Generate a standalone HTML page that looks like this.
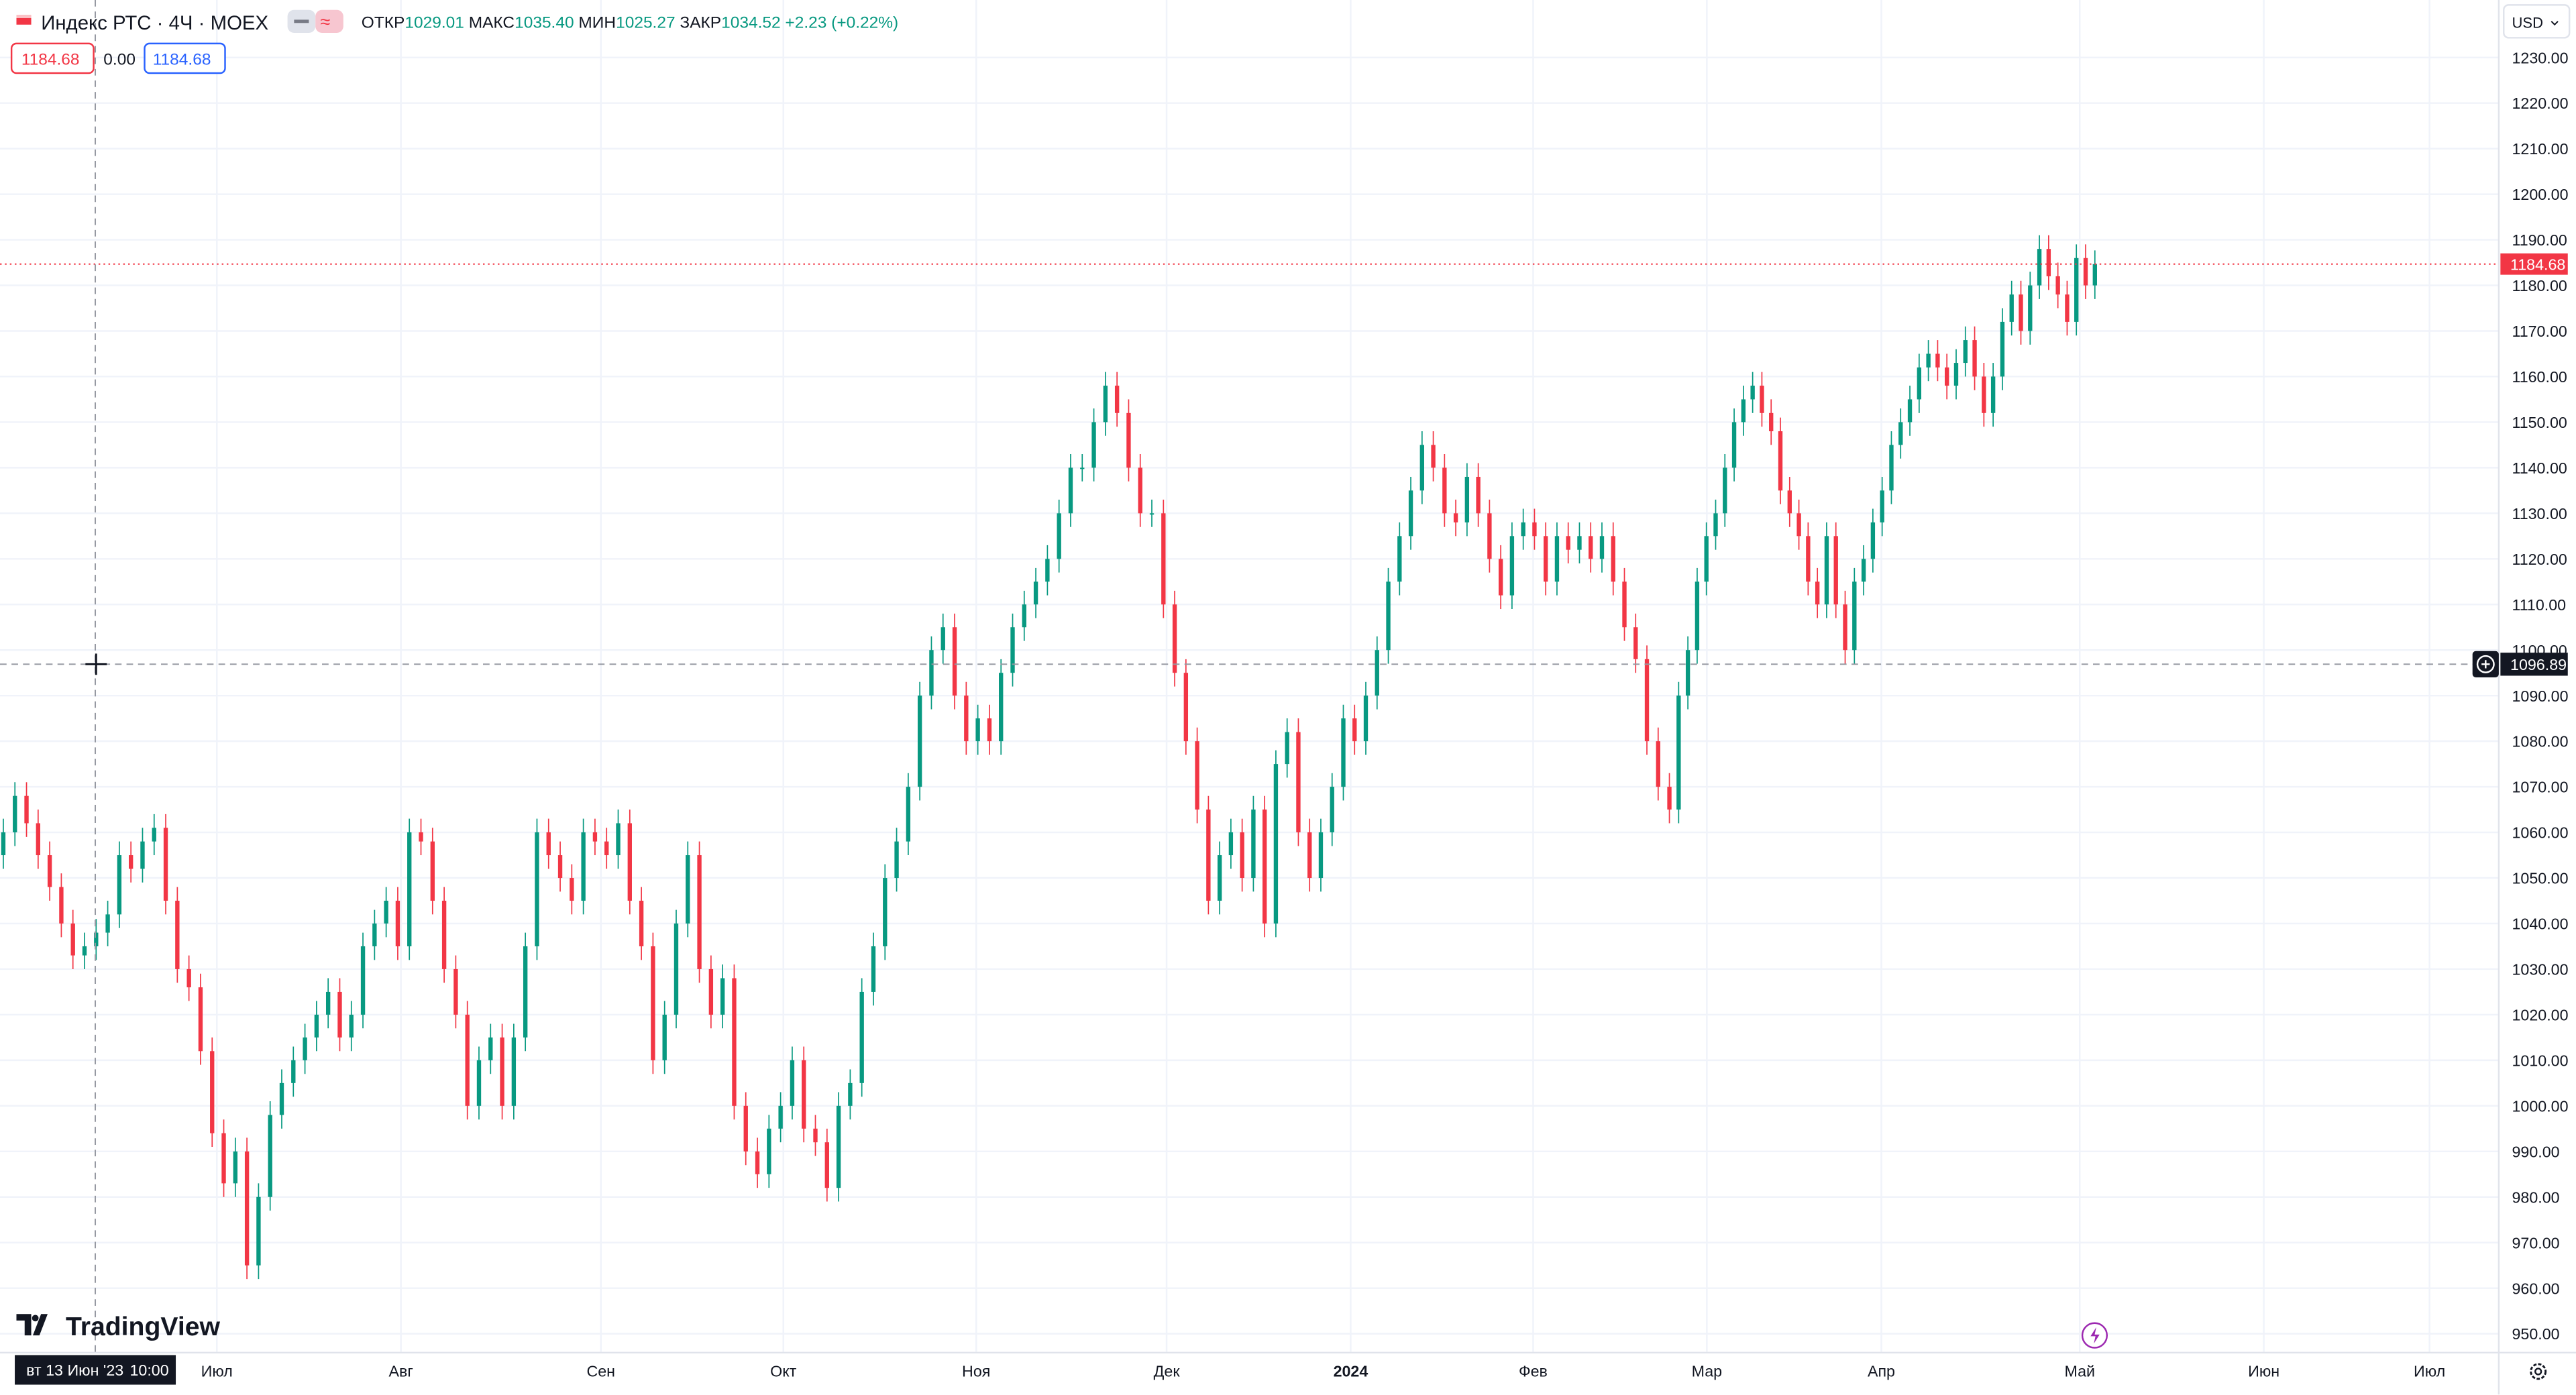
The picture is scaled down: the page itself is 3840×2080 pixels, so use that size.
<!DOCTYPE html>
<html><head><meta charset="utf-8">
<style>
html,body{margin:0;padding:0;background:#fff;}
svg{display:block;font-family:"Liberation Sans","Noto Sans CJK SC",sans-serif;}
</style></head>
<body>
<svg id="chart" width="3840" height="2080" viewBox="0 0 1568 849.3" preserveAspectRatio="none" xmlns="http://www.w3.org/2000/svg">
<rect x="0" y="0" width="1568" height="849.3" fill="#ffffff"/>
<g id="grid"></g>
<g id="candles"></g>
<g id="yaxis"></g>
<g id="xaxis"></g>
<g id="overlay"></g>
</svg>
<script>
const closes = [1060,1068,1062,1055,1048,1040,1033,1035,1038,1042,1055,1052,1058,1061,1045,1030,1026,1012,994,983,990,965,980,998,1005,1010,1015,1020,1025,1015,1020,1035,1040,1045,1035,1060,1058,1045,1030,1020,1000,1010,1015,1000,1015,1035,1060,1055,1050,1045,1060,1058,1055,1062,1045,1035,1010,1020,1040,1055,1030,1020,1028,1000,990,985,995,1000,1010,995,992,982,1000,1005,1025,1035,1050,1058,1070,1090,1100,1105,1090,1080,1085,1080,1095,1105,1110,1115,1120,1130,1140,1140,1150,1158,1152,1140,1130,1130,1110,1095,1080,1065,1045,1055,1060,1050,1065,1040,1075,1082,1060,1050,1060,1070,1085,1080,1090,1100,1115,1125,1135,1145,1140,1130,1128,1138,1130,1120,1112,1125,1128,1125,1115,1125,1122,1125,1120,1125,1115,1105,1098,1080,1070,1065,1090,1100,1115,1125,1130,1140,1150,1155,1158,1152,1148,1135,1130,1125,1115,1110,1125,1110,1100,1115,1120,1128,1135,1145,1150,1155,1162,1165,1162,1158,1163,1168,1160,1152,1160,1172,1178,1170,1180,1188,1182,1178,1172,1186,1180,1184.68];
const firstOpen = 1055;
const anchorBars = [0,100,145,191];
const anchorDays = [-26.8,118.8,182.3,235.7];
const priceTicks = [1230,1220,1210,1200,1190,1180,1170,1160,1150,1140,1130,1120,1110,1100,1090,1080,1070,1060,1050,1040,1030,1020,1010,1000,990,980,970,960,950];
const monthLabels = ["Июл","Авг","Сен","Окт","Ноя","Дек","2024","Фев","Мар","Апр","Май","Июн","Июл"];
const monthDays = [0,23.1,48.2,71.1,95.3,119.2,142.3,165.2,187.0,208.9,233.8,256.9,277.7];
const lastPrice = 1184.68;
const crossPrice = 1096.89;

const NS="http://www.w3.org/2000/svg";
function y(p){return 35+(1230-p)*2.775;}
function xd(d){return 132+d*4.85;}
function barDay(i){for(let k=0;k<anchorBars.length-1;k++){if(i<=anchorBars[k+1]){const t=(i-anchorBars[k])/(anchorBars[k+1]-anchorBars[k]);return anchorDays[k]+t*(anchorDays[k+1]-anchorDays[k]);}}return anchorDays[anchorDays.length-1];}
function mk(tag,attrs,parent,text){const e=document.createElementNS(NS,tag);for(const k in attrs)e.setAttribute(k,attrs[k]);if(text!==undefined)e.textContent=text;parent.appendChild(e);return e;}
const grid=document.getElementById('grid'),cg=document.getElementById('candles'),ya=document.getElementById('yaxis'),xa=document.getElementById('xaxis'),ov=document.getElementById('overlay');

priceTicks.forEach(p=>{
  const l=mk('line',{x1:0,x2:1521,y1:y(p),y2:y(p),stroke:'#f0f3fa','stroke-width':1},grid);
  
  
  const t=mk('text',{x:1529,y:y(p)+3.5,'font-size':9.5,fill:'#131722'},ya,p.toFixed(2));
  
  
});
monthLabels.forEach((m,i)=>{
  const x=xd(monthDays[i]);
  const l=mk('line',{x1:x,x2:x,y1:0,y2:823,stroke:'#f0f3fa','stroke-width':1},grid);
  
  
  const t=mk('text',{x:x,y:838,'font-size':9.5,fill:'#131722','text-anchor':'middle','font-weight':m==='2024'?'bold':'normal'},xa,m);
  
  
});

const w=2.6;
closes.forEach((c,i)=>{
  const o=i===0?firstOpen:closes[i-1];
  const up=c>=o, col=up?'#089981':'#f23645';
  const x=xd(barDay(i));
  const hi=Math.max(o,c)+3, lo=Math.min(o,c)-3;
  const g=mk('g',{},cg);
  
  
  mk('line',{x1:x,x2:x,y1:y(hi),y2:y(lo),stroke:col,'stroke-width':0.7},g);
  mk('rect',{x:x-w/2,y:y(Math.max(o,c)),width:w,height:Math.max(0.8,Math.abs(y(o)-y(c))),fill:col},g);
});

mk('line',{x1:1521,x2:1521,y1:0,y2:849,stroke:'#e0e3eb','stroke-width':1},ya);
mk('line',{x1:0,x2:1568,y1:823.5,y2:823.5,stroke:'#e0e3eb','stroke-width':1},xa);

mk('line',{x1:0,x2:1521,y1:y(lastPrice),y2:y(lastPrice),stroke:'#f23645','stroke-width':0.8,'stroke-dasharray':'1 2'},ov);
const lp=mk('g',{},ov);


mk('rect',{x:1522,y:y(lastPrice)-6.5,width:41,height:13,fill:'#f23645'},lp);
mk('text',{x:1528,y:y(lastPrice)+3.5,'font-size':9.5,fill:'#fff'},lp,lastPrice.toFixed(2));

mk('line',{x1:0,x2:1521,y1:y(crossPrice),y2:y(crossPrice),stroke:'#9598a1','stroke-width':0.8,'stroke-dasharray':'4 3'},ov);
mk('line',{x1:58,x2:58,y1:0,y2:823,stroke:'#9598a1','stroke-width':0.8,'stroke-dasharray':'4 3'},ov);
const cl=mk('g',{},ov);


mk('rect',{x:1522,y:y(crossPrice)-7,width:41,height:14,fill:'#131722'},cl);
mk('text',{x:1528,y:y(crossPrice)+3.5,'font-size':9.5,fill:'#fff'},cl,crossPrice.toFixed(2));
const ab=mk('g',{},ov);


mk('rect',{x:1505,y:y(crossPrice)-8,width:16,height:16,fill:'#131722',rx:2},ab);
mk('circle',{cx:1513,cy:y(crossPrice),r:5,fill:'none',stroke:'#fff','stroke-width':1},ab);
mk('path',{d:`M1510.5 ${y(crossPrice)}h5M1513 ${y(crossPrice)-2.5}v5`,stroke:'#fff','stroke-width':1},ab);
mk('path',{d:`M52 ${y(crossPrice)}h13M58.5 ${y(crossPrice)-6.5}v13`,stroke:'#131722','stroke-width':1.2},ov);
</script>
<svg style="position:absolute;left:0;top:0" width="3840" height="2080" viewBox="0 0 1568 849.3" preserveAspectRatio="none" xmlns="http://www.w3.org/2000/svg" font-family="Liberation Sans, sans-serif">
<g>
<rect x="10" y="9" width="9" height="6" fill="#f23645"/><rect x="10" y="9" width="9" height="2" fill="#fff" opacity="0.7"/>
<text x="25" y="18" font-size="12" fill="#131722">Индекс РТС · 4Ч · MOEX</text>
</g>
<g>
<rect x="175" y="6" width="17" height="14" rx="4" fill="#e0e3eb"/><rect x="179" y="12" width="9" height="2" fill="#787b86"/>
<rect x="192" y="6" width="17" height="14" rx="4" fill="#f7c6d0"/><text x="195" y="17" font-size="11" fill="#f23645">≈</text>
</g>
<text x="220" y="17" font-size="10" fill="#131722">ОТКР<tspan fill="#089981">1029.01</tspan> МАКС<tspan fill="#089981">1035.40</tspan> МИН<tspan fill="#089981">1025.27</tspan> ЗАКР<tspan fill="#089981">1034.52 +2.23 (+0.22%)</tspan></text>
<g><rect x="7" y="26.5" width="50" height="18" rx="3" fill="#fff" stroke="#f23645"/><text x="13" y="39.5" font-size="10" fill="#f23645">1184.68</text></g>
<text x="63" y="39.5" font-size="10" fill="#131722">0.00</text>
<g><rect x="88" y="26.5" width="49" height="18" rx="3" fill="#fff" stroke="#2962ff"/><text x="93" y="39.5" font-size="10" fill="#2962ff">1184.68</text></g>
<g><rect x="1524" y="3" width="40" height="20" rx="3" fill="#fff" stroke="#e0e3eb"/><text x="1529" y="17" font-size="9" fill="#131722">USD</text><path d="M1553 13l2 2 2-2" stroke="#131722" fill="none" stroke-width="0.8"/></g>
<g><path d="M10 800h9v13h-4v-9h-5z M20 813l5-13h4l-5 13z" fill="#131722"/><circle cx="21.5" cy="802.5" r="2" fill="#131722"/><text x="40" y="813" font-size="16" font-weight="bold" fill="#131722">TradingView</text></g>
<g><circle cx="1275" cy="813" r="7.5" fill="#fff" stroke="#9c27b0" stroke-width="1"/><path d="M1276 808l-3.5 5.5h3l-1 4.5 3.5-5.5h-3z" fill="#9c27b0"/></g>
<g><rect x="9" y="825" width="98" height="18" fill="#131722"/><text x="16" y="837.5" font-size="9.5" fill="#fff">вт 13 Июн '23</text><text x="79" y="837.5" font-size="9.5" fill="#fff">10:00</text></g>
<g><circle cx="1545" cy="835" r="4.5" fill="none" stroke="#131722" stroke-width="1.2" stroke-dasharray="2 1"/><circle cx="1545" cy="835" r="1.8" fill="none" stroke="#131722" stroke-width="1"/></g>
</svg>
</body></html>
